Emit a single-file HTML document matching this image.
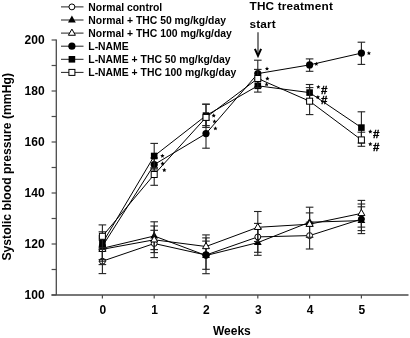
<!DOCTYPE html>
<html><head><meta charset="utf-8"><style>
html,body{margin:0;padding:0;background:#fff;width:410px;height:338px;overflow:hidden}
svg{display:block;filter:blur(0.3px)}
text{font-family:"Liberation Sans",sans-serif;font-weight:bold;fill:#000}
.lg{font-size:10.4px}
.tk{font-size:12px}
.ax{font-size:12.2px}
.tt{font-size:11.8px;letter-spacing:0.17px}
.hs{font-size:11.5px;stroke:#000;stroke-width:0.35px}
</style></head><body>
<svg width="410" height="338" viewBox="0 0 410 338">
<line x1="56.3" y1="39.5" x2="56.3" y2="295" stroke="#4a4a4a" stroke-width="1.3"/>
<line x1="51.5" y1="294.9" x2="408.5" y2="294.9" stroke="#4a4a4a" stroke-width="1.5"/>
<line x1="51.6" y1="40.00" x2="56.3" y2="40.00" stroke="#4a4a4a" stroke-width="1.2"/>
<line x1="51.6" y1="65.50" x2="56.3" y2="65.50" stroke="#4a4a4a" stroke-width="1.2"/>
<line x1="51.6" y1="91.00" x2="56.3" y2="91.00" stroke="#4a4a4a" stroke-width="1.2"/>
<line x1="51.6" y1="116.50" x2="56.3" y2="116.50" stroke="#4a4a4a" stroke-width="1.2"/>
<line x1="51.6" y1="142.00" x2="56.3" y2="142.00" stroke="#4a4a4a" stroke-width="1.2"/>
<line x1="51.6" y1="167.50" x2="56.3" y2="167.50" stroke="#4a4a4a" stroke-width="1.2"/>
<line x1="51.6" y1="193.00" x2="56.3" y2="193.00" stroke="#4a4a4a" stroke-width="1.2"/>
<line x1="51.6" y1="218.50" x2="56.3" y2="218.50" stroke="#4a4a4a" stroke-width="1.2"/>
<line x1="51.6" y1="244.00" x2="56.3" y2="244.00" stroke="#4a4a4a" stroke-width="1.2"/>
<line x1="51.6" y1="269.50" x2="56.3" y2="269.50" stroke="#4a4a4a" stroke-width="1.2"/>
<line x1="51.6" y1="295.00" x2="56.3" y2="295.00" stroke="#4a4a4a" stroke-width="1.2"/>
<line x1="102.40" y1="294.9" x2="102.40" y2="298.5" stroke="#4a4a4a" stroke-width="1.2"/>
<line x1="154.20" y1="294.9" x2="154.20" y2="298.5" stroke="#4a4a4a" stroke-width="1.2"/>
<line x1="206.00" y1="294.9" x2="206.00" y2="298.5" stroke="#4a4a4a" stroke-width="1.2"/>
<line x1="257.80" y1="294.9" x2="257.80" y2="298.5" stroke="#4a4a4a" stroke-width="1.2"/>
<line x1="309.60" y1="294.9" x2="309.60" y2="298.5" stroke="#4a4a4a" stroke-width="1.2"/>
<line x1="361.40" y1="294.9" x2="361.40" y2="298.5" stroke="#4a4a4a" stroke-width="1.2"/>
<line x1="102.40" y1="249.00" x2="102.40" y2="273.60" stroke="#222" stroke-width="1.1"/>
<line x1="98.60" y1="249.00" x2="106.20" y2="249.00" stroke="#222" stroke-width="1.1"/>
<line x1="98.60" y1="273.60" x2="106.20" y2="273.60" stroke="#222" stroke-width="1.1"/>
<line x1="154.20" y1="230.30" x2="154.20" y2="257.60" stroke="#222" stroke-width="1.1"/>
<line x1="150.40" y1="230.30" x2="158.00" y2="230.30" stroke="#222" stroke-width="1.1"/>
<line x1="150.40" y1="257.60" x2="158.00" y2="257.60" stroke="#222" stroke-width="1.1"/>
<line x1="206.00" y1="241.10" x2="206.00" y2="269.30" stroke="#222" stroke-width="1.1"/>
<line x1="202.20" y1="241.10" x2="209.80" y2="241.10" stroke="#222" stroke-width="1.1"/>
<line x1="202.20" y1="269.30" x2="209.80" y2="269.30" stroke="#222" stroke-width="1.1"/>
<line x1="257.80" y1="223.40" x2="257.80" y2="252.30" stroke="#222" stroke-width="1.1"/>
<line x1="254.00" y1="223.40" x2="261.60" y2="223.40" stroke="#222" stroke-width="1.1"/>
<line x1="254.00" y1="252.30" x2="261.60" y2="252.30" stroke="#222" stroke-width="1.1"/>
<line x1="309.60" y1="222.20" x2="309.60" y2="249.00" stroke="#222" stroke-width="1.1"/>
<line x1="305.80" y1="222.20" x2="313.40" y2="222.20" stroke="#222" stroke-width="1.1"/>
<line x1="305.80" y1="249.00" x2="313.40" y2="249.00" stroke="#222" stroke-width="1.1"/>
<line x1="361.40" y1="206.80" x2="361.40" y2="230.60" stroke="#222" stroke-width="1.1"/>
<line x1="357.60" y1="206.80" x2="365.20" y2="206.80" stroke="#222" stroke-width="1.1"/>
<line x1="357.60" y1="230.60" x2="365.20" y2="230.60" stroke="#222" stroke-width="1.1"/>
<polyline points="102.40,261.20 154.20,243.50 206.00,255.00 257.80,236.90 309.60,235.60 361.40,219.10" fill="none" stroke="#000" stroke-width="1"/>
<circle cx="102.40" cy="261.20" r="2.95" fill="#fff" stroke="#000" stroke-width="1"/>
<circle cx="154.20" cy="243.50" r="2.95" fill="#fff" stroke="#000" stroke-width="1"/>
<circle cx="206.00" cy="255.00" r="2.95" fill="#fff" stroke="#000" stroke-width="1"/>
<circle cx="257.80" cy="236.90" r="2.95" fill="#fff" stroke="#000" stroke-width="1"/>
<circle cx="309.60" cy="235.60" r="2.95" fill="#fff" stroke="#000" stroke-width="1"/>
<circle cx="361.40" cy="219.10" r="2.95" fill="#fff" stroke="#000" stroke-width="1"/>
<line x1="102.40" y1="240.00" x2="102.40" y2="264.60" stroke="#222" stroke-width="1.1"/>
<line x1="98.60" y1="240.00" x2="106.20" y2="240.00" stroke="#222" stroke-width="1.1"/>
<line x1="98.60" y1="264.60" x2="106.20" y2="264.60" stroke="#222" stroke-width="1.1"/>
<line x1="154.20" y1="221.80" x2="154.20" y2="249.60" stroke="#222" stroke-width="1.1"/>
<line x1="150.40" y1="221.80" x2="158.00" y2="221.80" stroke="#222" stroke-width="1.1"/>
<line x1="150.40" y1="249.60" x2="158.00" y2="249.60" stroke="#222" stroke-width="1.1"/>
<line x1="206.00" y1="237.90" x2="206.00" y2="273.70" stroke="#222" stroke-width="1.1"/>
<line x1="202.20" y1="237.90" x2="209.80" y2="237.90" stroke="#222" stroke-width="1.1"/>
<line x1="202.20" y1="273.70" x2="209.80" y2="273.70" stroke="#222" stroke-width="1.1"/>
<line x1="257.80" y1="228.50" x2="257.80" y2="255.30" stroke="#222" stroke-width="1.1"/>
<line x1="254.00" y1="228.50" x2="261.60" y2="228.50" stroke="#222" stroke-width="1.1"/>
<line x1="254.00" y1="255.30" x2="261.60" y2="255.30" stroke="#222" stroke-width="1.1"/>
<line x1="309.60" y1="212.90" x2="309.60" y2="226.20" stroke="#222" stroke-width="1.1"/>
<line x1="305.80" y1="212.90" x2="313.40" y2="212.90" stroke="#222" stroke-width="1.1"/>
<line x1="305.80" y1="226.20" x2="313.40" y2="226.20" stroke="#222" stroke-width="1.1"/>
<line x1="361.40" y1="204.00" x2="361.40" y2="233.60" stroke="#222" stroke-width="1.1"/>
<line x1="357.60" y1="204.00" x2="365.20" y2="204.00" stroke="#222" stroke-width="1.1"/>
<line x1="357.60" y1="233.60" x2="365.20" y2="233.60" stroke="#222" stroke-width="1.1"/>
<polyline points="102.40,248.30 154.20,236.00 206.00,255.50 257.80,242.60 309.60,222.20 361.40,220.60" fill="none" stroke="#000" stroke-width="1"/>
<polygon points="102.40,243.88 106.30,250.68 98.50,250.68" fill="#000"/>
<polygon points="154.20,231.58 158.10,238.38 150.30,238.38" fill="#000"/>
<polygon points="206.00,251.08 209.90,257.88 202.10,257.88" fill="#000"/>
<polygon points="257.80,238.18 261.70,244.98 253.90,244.98" fill="#000"/>
<polygon points="309.60,217.78 313.50,224.58 305.70,224.58" fill="#000"/>
<polygon points="361.40,216.18 365.30,222.98 357.50,222.98" fill="#000"/>
<line x1="102.40" y1="236.00" x2="102.40" y2="259.50" stroke="#222" stroke-width="1.1"/>
<line x1="98.60" y1="236.00" x2="106.20" y2="236.00" stroke="#222" stroke-width="1.1"/>
<line x1="98.60" y1="259.50" x2="106.20" y2="259.50" stroke="#222" stroke-width="1.1"/>
<line x1="154.20" y1="226.00" x2="154.20" y2="252.60" stroke="#222" stroke-width="1.1"/>
<line x1="150.40" y1="226.00" x2="158.00" y2="226.00" stroke="#222" stroke-width="1.1"/>
<line x1="150.40" y1="252.60" x2="158.00" y2="252.60" stroke="#222" stroke-width="1.1"/>
<line x1="206.00" y1="234.90" x2="206.00" y2="255.00" stroke="#222" stroke-width="1.1"/>
<line x1="202.20" y1="234.90" x2="209.80" y2="234.90" stroke="#222" stroke-width="1.1"/>
<line x1="202.20" y1="255.00" x2="209.80" y2="255.00" stroke="#222" stroke-width="1.1"/>
<line x1="257.80" y1="211.50" x2="257.80" y2="241.50" stroke="#222" stroke-width="1.1"/>
<line x1="254.00" y1="211.50" x2="261.60" y2="211.50" stroke="#222" stroke-width="1.1"/>
<line x1="254.00" y1="241.50" x2="261.60" y2="241.50" stroke="#222" stroke-width="1.1"/>
<line x1="309.60" y1="207.20" x2="309.60" y2="237.30" stroke="#222" stroke-width="1.1"/>
<line x1="305.80" y1="207.20" x2="313.40" y2="207.20" stroke="#222" stroke-width="1.1"/>
<line x1="305.80" y1="237.30" x2="313.40" y2="237.30" stroke="#222" stroke-width="1.1"/>
<line x1="361.40" y1="200.40" x2="361.40" y2="227.10" stroke="#222" stroke-width="1.1"/>
<line x1="357.60" y1="200.40" x2="365.20" y2="200.40" stroke="#222" stroke-width="1.1"/>
<line x1="357.60" y1="227.10" x2="365.20" y2="227.10" stroke="#222" stroke-width="1.1"/>
<polyline points="102.40,249.30 154.20,239.80 206.00,246.50 257.80,227.30 309.60,224.20 361.40,213.40" fill="none" stroke="#000" stroke-width="1"/>
<polygon points="102.40,245.27 105.90,251.47 98.90,251.47" fill="#fff" stroke="#000" stroke-width="1" stroke-linejoin="miter"/>
<polygon points="154.20,235.77 157.70,241.97 150.70,241.97" fill="#fff" stroke="#000" stroke-width="1" stroke-linejoin="miter"/>
<polygon points="206.00,242.47 209.50,248.67 202.50,248.67" fill="#fff" stroke="#000" stroke-width="1" stroke-linejoin="miter"/>
<polygon points="257.80,223.27 261.30,229.47 254.30,229.47" fill="#fff" stroke="#000" stroke-width="1" stroke-linejoin="miter"/>
<polygon points="309.60,220.17 313.10,226.37 306.10,226.37" fill="#fff" stroke="#000" stroke-width="1" stroke-linejoin="miter"/>
<polygon points="361.40,209.37 364.90,215.57 357.90,215.57" fill="#fff" stroke="#000" stroke-width="1" stroke-linejoin="miter"/>
<line x1="102.40" y1="231.80" x2="102.40" y2="261.20" stroke="#222" stroke-width="1.1"/>
<line x1="98.60" y1="231.80" x2="106.20" y2="231.80" stroke="#222" stroke-width="1.1"/>
<line x1="98.60" y1="261.20" x2="106.20" y2="261.20" stroke="#222" stroke-width="1.1"/>
<line x1="154.20" y1="158.00" x2="154.20" y2="170.00" stroke="#222" stroke-width="1.1"/>
<line x1="150.40" y1="158.00" x2="158.00" y2="158.00" stroke="#222" stroke-width="1.1"/>
<line x1="150.40" y1="170.00" x2="158.00" y2="170.00" stroke="#222" stroke-width="1.1"/>
<line x1="206.00" y1="120.00" x2="206.00" y2="148.20" stroke="#222" stroke-width="1.1"/>
<line x1="202.20" y1="120.00" x2="209.80" y2="120.00" stroke="#222" stroke-width="1.1"/>
<line x1="202.20" y1="148.20" x2="209.80" y2="148.20" stroke="#222" stroke-width="1.1"/>
<line x1="257.80" y1="60.20" x2="257.80" y2="87.00" stroke="#222" stroke-width="1.1"/>
<line x1="254.00" y1="60.20" x2="261.60" y2="60.20" stroke="#222" stroke-width="1.1"/>
<line x1="254.00" y1="87.00" x2="261.60" y2="87.00" stroke="#222" stroke-width="1.1"/>
<line x1="309.60" y1="58.90" x2="309.60" y2="71.30" stroke="#222" stroke-width="1.1"/>
<line x1="305.80" y1="58.90" x2="313.40" y2="58.90" stroke="#222" stroke-width="1.1"/>
<line x1="305.80" y1="71.30" x2="313.40" y2="71.30" stroke="#222" stroke-width="1.1"/>
<line x1="361.40" y1="42.20" x2="361.40" y2="64.40" stroke="#222" stroke-width="1.1"/>
<line x1="357.60" y1="42.20" x2="365.20" y2="42.20" stroke="#222" stroke-width="1.1"/>
<line x1="357.60" y1="64.40" x2="365.20" y2="64.40" stroke="#222" stroke-width="1.1"/>
<polyline points="102.40,246.30 154.20,164.60 206.00,133.60 257.80,73.60 309.60,64.90 361.40,53.10" fill="none" stroke="#000" stroke-width="1"/>
<circle cx="102.40" cy="246.30" r="3.6" fill="#000"/>
<circle cx="154.20" cy="164.60" r="3.6" fill="#000"/>
<circle cx="206.00" cy="133.60" r="3.6" fill="#000"/>
<circle cx="257.80" cy="73.60" r="3.6" fill="#000"/>
<circle cx="309.60" cy="64.90" r="3.6" fill="#000"/>
<circle cx="361.40" cy="53.10" r="3.6" fill="#000"/>
<line x1="102.40" y1="238.00" x2="102.40" y2="249.50" stroke="#222" stroke-width="1.1"/>
<line x1="98.60" y1="238.00" x2="106.20" y2="238.00" stroke="#222" stroke-width="1.1"/>
<line x1="98.60" y1="249.50" x2="106.20" y2="249.50" stroke="#222" stroke-width="1.1"/>
<line x1="154.20" y1="143.40" x2="154.20" y2="168.00" stroke="#222" stroke-width="1.1"/>
<line x1="150.40" y1="143.40" x2="158.00" y2="143.40" stroke="#222" stroke-width="1.1"/>
<line x1="150.40" y1="168.00" x2="158.00" y2="168.00" stroke="#222" stroke-width="1.1"/>
<line x1="206.00" y1="104.20" x2="206.00" y2="125.60" stroke="#222" stroke-width="1.1"/>
<line x1="202.20" y1="104.20" x2="209.80" y2="104.20" stroke="#222" stroke-width="1.1"/>
<line x1="202.20" y1="125.60" x2="209.80" y2="125.60" stroke="#222" stroke-width="1.1"/>
<line x1="257.80" y1="79.50" x2="257.80" y2="92.10" stroke="#222" stroke-width="1.1"/>
<line x1="254.00" y1="79.50" x2="261.60" y2="79.50" stroke="#222" stroke-width="1.1"/>
<line x1="254.00" y1="92.10" x2="261.60" y2="92.10" stroke="#222" stroke-width="1.1"/>
<line x1="309.60" y1="84.50" x2="309.60" y2="100.70" stroke="#222" stroke-width="1.1"/>
<line x1="305.80" y1="84.50" x2="313.40" y2="84.50" stroke="#222" stroke-width="1.1"/>
<line x1="305.80" y1="100.70" x2="313.40" y2="100.70" stroke="#222" stroke-width="1.1"/>
<line x1="361.40" y1="111.80" x2="361.40" y2="143.10" stroke="#222" stroke-width="1.1"/>
<line x1="357.60" y1="111.80" x2="365.20" y2="111.80" stroke="#222" stroke-width="1.1"/>
<line x1="357.60" y1="143.10" x2="365.20" y2="143.10" stroke="#222" stroke-width="1.1"/>
<polyline points="102.40,243.20 154.20,156.00 206.00,115.60 257.80,85.80 309.60,92.60 361.40,127.60" fill="none" stroke="#000" stroke-width="1"/>
<rect x="99.10" y="239.90" width="6.6" height="6.6" fill="#000"/>
<rect x="150.90" y="152.70" width="6.6" height="6.6" fill="#000"/>
<rect x="202.70" y="112.30" width="6.6" height="6.6" fill="#000"/>
<rect x="254.50" y="82.50" width="6.6" height="6.6" fill="#000"/>
<rect x="306.30" y="89.30" width="6.6" height="6.6" fill="#000"/>
<rect x="358.10" y="124.30" width="6.6" height="6.6" fill="#000"/>
<line x1="102.40" y1="224.90" x2="102.40" y2="247.70" stroke="#222" stroke-width="1.1"/>
<line x1="98.60" y1="224.90" x2="106.20" y2="224.90" stroke="#222" stroke-width="1.1"/>
<line x1="98.60" y1="247.70" x2="106.20" y2="247.70" stroke="#222" stroke-width="1.1"/>
<line x1="154.20" y1="168.00" x2="154.20" y2="185.30" stroke="#222" stroke-width="1.1"/>
<line x1="150.40" y1="168.00" x2="158.00" y2="168.00" stroke="#222" stroke-width="1.1"/>
<line x1="150.40" y1="185.30" x2="158.00" y2="185.30" stroke="#222" stroke-width="1.1"/>
<line x1="206.00" y1="104.20" x2="206.00" y2="127.40" stroke="#222" stroke-width="1.1"/>
<line x1="202.20" y1="104.20" x2="209.80" y2="104.20" stroke="#222" stroke-width="1.1"/>
<line x1="202.20" y1="127.40" x2="209.80" y2="127.40" stroke="#222" stroke-width="1.1"/>
<line x1="257.80" y1="69.40" x2="257.80" y2="87.60" stroke="#222" stroke-width="1.1"/>
<line x1="254.00" y1="69.40" x2="261.60" y2="69.40" stroke="#222" stroke-width="1.1"/>
<line x1="254.00" y1="87.60" x2="261.60" y2="87.60" stroke="#222" stroke-width="1.1"/>
<line x1="309.60" y1="87.60" x2="309.60" y2="114.60" stroke="#222" stroke-width="1.1"/>
<line x1="305.80" y1="87.60" x2="313.40" y2="87.60" stroke="#222" stroke-width="1.1"/>
<line x1="305.80" y1="114.60" x2="313.40" y2="114.60" stroke="#222" stroke-width="1.1"/>
<line x1="361.40" y1="132.20" x2="361.40" y2="146.30" stroke="#222" stroke-width="1.1"/>
<line x1="357.60" y1="132.20" x2="365.20" y2="132.20" stroke="#222" stroke-width="1.1"/>
<line x1="357.60" y1="146.30" x2="365.20" y2="146.30" stroke="#222" stroke-width="1.1"/>
<polyline points="102.40,236.30 154.20,174.50 206.00,117.40 257.80,78.50 309.60,101.20 361.40,139.90" fill="none" stroke="#000" stroke-width="1"/>
<rect x="99.40" y="233.30" width="6.0" height="6.0" fill="#fff" stroke="#000" stroke-width="1"/>
<rect x="151.20" y="171.50" width="6.0" height="6.0" fill="#fff" stroke="#000" stroke-width="1"/>
<rect x="203.00" y="114.40" width="6.0" height="6.0" fill="#fff" stroke="#000" stroke-width="1"/>
<rect x="254.80" y="75.50" width="6.0" height="6.0" fill="#fff" stroke="#000" stroke-width="1"/>
<rect x="306.60" y="98.20" width="6.0" height="6.0" fill="#fff" stroke="#000" stroke-width="1"/>
<rect x="358.40" y="136.90" width="6.0" height="6.0" fill="#fff" stroke="#000" stroke-width="1"/>
<circle cx="206.00" cy="255.00" r="3.7" fill="#000"/>
<circle cx="361.40" cy="219.10" r="3.1" fill="#000"/>
<line x1="61" y1="6.90" x2="83.5" y2="6.90" stroke="#222" stroke-width="1"/>
<circle cx="71.90" cy="6.90" r="2.95" fill="#fff" stroke="#000" stroke-width="1"/>
<text x="88.3" y="10.50" class="lg">Normal control</text>
<line x1="61" y1="20.00" x2="83.5" y2="20.00" stroke="#222" stroke-width="1"/>
<polygon points="71.90,15.58 75.80,22.38 68.00,22.38" fill="#000"/>
<text x="88.3" y="23.60" class="lg">Normal + THC 50 mg/kg/day</text>
<line x1="61" y1="33.10" x2="83.5" y2="33.10" stroke="#222" stroke-width="1"/>
<polygon points="71.90,29.07 75.40,35.27 68.40,35.27" fill="#fff" stroke="#000" stroke-width="1" stroke-linejoin="miter"/>
<text x="88.3" y="36.70" class="lg">Normal + THC 100 mg/kg/day</text>
<line x1="61" y1="46.20" x2="83.5" y2="46.20" stroke="#222" stroke-width="1"/>
<circle cx="71.90" cy="46.20" r="3.6" fill="#000"/>
<text x="88.3" y="49.80" class="lg">L-NAME</text>
<line x1="61" y1="59.30" x2="83.5" y2="59.30" stroke="#222" stroke-width="1"/>
<rect x="68.60" y="56.00" width="6.6" height="6.6" fill="#000"/>
<text x="88.3" y="62.90" class="lg">L-NAME + THC 50 mg/kg/day</text>
<line x1="61" y1="72.40" x2="83.5" y2="72.40" stroke="#222" stroke-width="1"/>
<rect x="68.90" y="69.40" width="6.0" height="6.0" fill="#fff" stroke="#000" stroke-width="1"/>
<text x="88.3" y="76.00" class="lg">L-NAME + THC 100 mg/kg/day</text>
<polygon points="162.40,153.65 163.02,155.05 164.54,155.20 163.40,156.22 163.72,157.72 162.40,156.95 161.08,157.72 161.40,156.22 160.26,155.20 161.78,155.05" fill="#000"/>
<polygon points="162.60,161.35 163.22,162.75 164.74,162.90 163.60,163.92 163.92,165.42 162.60,164.65 161.28,165.42 161.60,163.92 160.46,162.90 161.98,162.75" fill="#000"/>
<polygon points="164.30,167.85 164.92,169.25 166.44,169.40 165.30,170.42 165.62,171.92 164.30,171.15 162.98,171.92 163.30,170.42 162.16,169.40 163.68,169.25" fill="#000"/>
<polygon points="213.70,113.35 214.32,114.75 215.84,114.90 214.70,115.92 215.02,117.42 213.70,116.65 212.38,117.42 212.70,115.92 211.56,114.90 213.08,114.75" fill="#000"/>
<polygon points="214.50,119.25 215.12,120.65 216.64,120.80 215.50,121.82 215.82,123.32 214.50,122.55 213.18,123.32 213.50,121.82 212.36,120.80 213.88,120.65" fill="#000"/>
<polygon points="215.40,126.25 216.02,127.65 217.54,127.80 216.40,128.82 216.72,130.32 215.40,129.55 214.08,130.32 214.40,128.82 213.26,127.80 214.78,127.65" fill="#000"/>
<polygon points="267.00,66.55 267.62,67.95 269.14,68.10 268.00,69.12 268.32,70.62 267.00,69.85 265.68,70.62 266.00,69.12 264.86,68.10 266.38,67.95" fill="#000"/>
<polygon points="267.40,76.35 268.02,77.75 269.54,77.90 268.40,78.92 268.72,80.42 267.40,79.65 266.08,80.42 266.40,78.92 265.26,77.90 266.78,77.75" fill="#000"/>
<polygon points="266.60,82.25 267.22,83.65 268.74,83.80 267.60,84.82 267.92,86.32 266.60,85.55 265.28,86.32 265.60,84.82 264.46,83.80 265.98,83.65" fill="#000"/>
<polygon points="316.30,61.65 316.92,63.05 318.44,63.20 317.30,64.22 317.62,65.72 316.30,64.95 314.98,65.72 315.30,64.22 314.16,63.20 315.68,63.05" fill="#000"/>
<polygon points="368.90,51.05 369.52,52.45 371.04,52.60 369.90,53.62 370.22,55.12 368.90,54.35 367.58,55.12 367.90,53.62 366.76,52.60 368.28,52.45" fill="#000"/>
<polygon points="318.30,84.75 318.92,86.15 320.44,86.30 319.30,87.32 319.62,88.82 318.30,88.05 316.98,88.82 317.30,87.32 316.16,86.30 317.68,86.15" fill="#000"/>
<polygon points="317.90,94.95 318.52,96.35 320.04,96.50 318.90,97.52 319.22,99.02 317.90,98.25 316.58,99.02 316.90,97.52 315.76,96.50 317.28,96.35" fill="#000"/>
<polygon points="370.30,129.35 370.92,130.75 372.44,130.90 371.30,131.92 371.62,133.42 370.30,132.65 368.98,133.42 369.30,131.92 368.16,130.90 369.68,130.75" fill="#000"/>
<polygon points="370.30,141.85 370.92,143.25 372.44,143.40 371.30,144.42 371.62,145.92 370.30,145.15 368.98,145.92 369.30,144.42 368.16,143.40 369.68,143.25" fill="#000"/>
<text x="321.00" y="93.60" class="hs">#</text>
<text x="321.00" y="103.90" class="hs">#</text>
<text x="373.00" y="138.10" class="hs">#</text>
<text x="373.00" y="151.00" class="hs">#</text>
<line x1="258" y1="32.2" x2="258" y2="55" stroke="#3a3a3a" stroke-width="1.3"/>
<polyline points="254.9,48.8 258,55.8 261.1,48.8" fill="none" stroke="#000" stroke-width="2"/>
<text x="249.5" y="10.1" class="tt">THC treatment</text>
<text x="249.5" y="27.6" class="tt">start</text>
<text x="44.6" y="44.20" class="tk" text-anchor="end">200</text>
<text x="44.6" y="95.10" class="tk" text-anchor="end">180</text>
<text x="44.6" y="146.00" class="tk" text-anchor="end">160</text>
<text x="44.6" y="196.90" class="tk" text-anchor="end">140</text>
<text x="44.6" y="247.80" class="tk" text-anchor="end">120</text>
<text x="44.6" y="298.70" class="tk" text-anchor="end">100</text>
<text x="102.85" y="313.6" class="tk" text-anchor="middle">0</text>
<text x="154.65" y="313.6" class="tk" text-anchor="middle">1</text>
<text x="206.45" y="313.6" class="tk" text-anchor="middle">2</text>
<text x="258.25" y="313.6" class="tk" text-anchor="middle">3</text>
<text x="310.05" y="313.6" class="tk" text-anchor="middle">4</text>
<text x="361.85" y="313.6" class="tk" text-anchor="middle">5</text>
<text x="231.9" y="335" class="ax" text-anchor="middle" style="font-size:12px">Weeks</text>
<text transform="translate(10.8,166.8) rotate(-90)" class="ax" text-anchor="middle">Systolic blood pressure (mmHg)</text>
</svg>
</body></html>
